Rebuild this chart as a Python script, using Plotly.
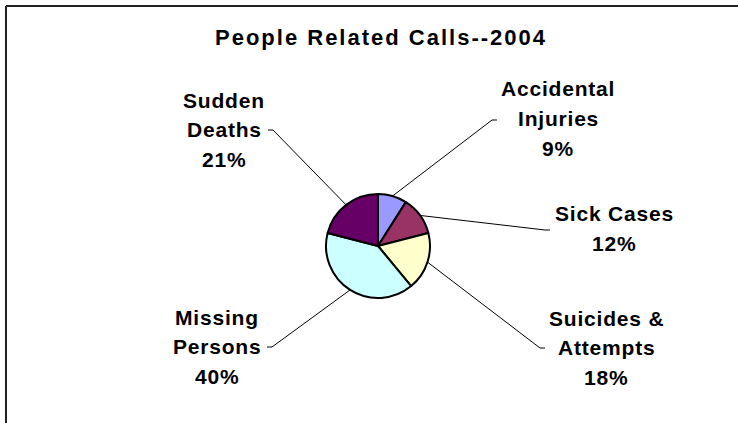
import math
import plotly.graph_objects as go

# ---------------- data ----------------
categories = ["Accidental Injuries", "Sick Cases", "Suicides & Attempts",
              "Missing Persons", "Sudden Deaths"]
label_lines = [["Accidental", "Injuries"], ["Sick Cases"], ["Suicides &", "Attempts"],
               ["Missing", "Persons"], ["Sudden", "Deaths"]]
values = [9, 12, 18, 40, 21]
colors = ["#9999FF", "#993366", "#FFFFCC", "#CCFFFF", "#660066"]
title_text = "People Related Calls--2004"

# ---------------- layout geometry (pixels) ----------------
W, H = 738, 423
CX, CY, R = 378, 246, 52
# label block centres (x, y of first line)
label_pos = [(558, 89), (614, 214), (606, 318), (217, 317), (224, 100)]
LINE_GAP = 29.5
# leader line anchor near the label: (x, y, dash direction)
leader_anchor = [(497, 120, -5), (550, 230, -5), (545, 348, -5),
                 (267, 347, 5), (268, 130, 5)]
FONT = "Arial, 'Liberation Sans', sans-serif"


def px(x):
    return x / W


def py(y):
    return 1 - y / H


fig = go.Figure()

# overlay axes in pixel space for leader lines
total = sum(values)
cum = 0
for i, v in enumerate(values):
    mid = (cum + v / 2) / total * 2 * math.pi
    cum += v
    ex = CX + R * math.sin(mid)
    ey = CY - R * math.cos(mid)
    ax, ay, d = leader_anchor[i]
    fig.add_trace(go.Scatter(
        x=[ax, ax + d, ex], y=[ay, ay, ey], mode="lines",
        line=dict(color="black", width=1), hoverinfo="skip", showlegend=False,
        xaxis="x", yaxis="y"))

fig.add_trace(go.Pie(
    values=values, labels=categories, sort=False, direction="clockwise",
    rotation=0, textinfo="none", hoverinfo="label+percent", showlegend=False,
    marker=dict(colors=colors, line=dict(color="black", width=2)),
    domain=dict(x=[px(CX - R), px(CX + R)], y=[py(CY + R), py(CY - R)]),
))

annotations = []
for i, lines in enumerate(label_lines):
    pct = round(values[i] / total * 100)
    all_lines = lines + [f"{pct}%"]
    x0, y0 = label_pos[i]
    for k, t in enumerate(all_lines):
        annotations.append(dict(
            x=px(x0), y=py(y0 + k * LINE_GAP), xref="paper", yref="paper",
            text=f"<b><span style='letter-spacing:0.8px'>{t}</span></b>",
            showarrow=False, xanchor="center", yanchor="middle",
            font=dict(family=FONT, size=21, color="black")))

annotations.append(dict(
    x=px(381), y=py(37), xref="paper", yref="paper",
    text=f"<b><span style='letter-spacing:2px'>{title_text}</span></b>",
    showarrow=False, xanchor="center", yanchor="middle",
    font=dict(family=FONT, size=22, color="black")))

shapes = [
    dict(type="line", xref="paper", yref="paper", x0=px(6), x1=1, y0=py(6), y1=py(6),
         line=dict(color="#222222", width=2)),
    dict(type="line", xref="paper", yref="paper", x0=px(6), x1=px(6), y0=py(6), y1=0,
         line=dict(color="#222222", width=2)),
]

fig.update_layout(
    width=W, height=H, margin=dict(l=0, r=0, t=0, b=0),
    paper_bgcolor="white", plot_bgcolor="rgba(0,0,0,0)",
    xaxis=dict(range=[0, W], visible=False, domain=[0, 1], fixedrange=True),
    yaxis=dict(range=[H, 0], visible=False, domain=[0, 1], fixedrange=True),
    annotations=annotations, shapes=shapes,
)

fig.write_html("out.html", config={"displayModeBar": False},
               post_script="document.body.style.margin='0';document.body.style.overflow='hidden';")
